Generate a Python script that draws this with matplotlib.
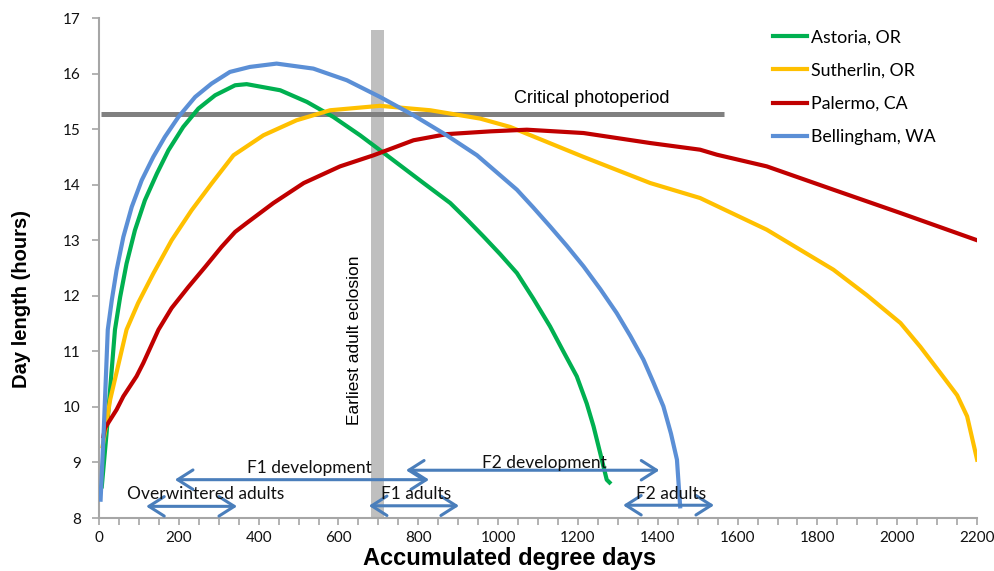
import matplotlib
matplotlib.use("Agg")
import matplotlib.pyplot as plt

# Day length vs accumulated degree days, four sites
astoria_x = [7, 19, 40, 53, 69, 90, 115, 145, 174, 211, 249, 291, 341, 370, 454, 521,
             587, 654, 721, 813, 880, 921, 963, 1005, 1047, 1088, 1130, 1164, 1197, 1222,
             1239, 1256, 1272, 1279]
astoria_y = [8.57, 9.53, 11.39, 11.98, 12.58, 13.18, 13.72, 14.2, 14.62, 15.04, 15.37,
             15.61, 15.79, 15.81, 15.7, 15.49, 15.22, 14.89, 14.53, 14.03, 13.67, 13.38,
             13.07, 12.75, 12.41, 11.95, 11.45, 10.99, 10.55, 10.06, 9.65, 9.16, 8.69, 8.64]

sutherlin_x = [9, 28, 69, 98, 136, 182, 232, 282, 337, 412, 495, 579, 704, 830, 955,
               1030, 1214, 1381, 1506, 1632, 1673, 1840, 1924, 2008, 2058, 2108, 2150,
               2175, 2200]
sutherlin_y = [9.29, 10.13, 11.39, 11.87, 12.4, 13.0, 13.54, 14.02, 14.53, 14.89, 15.16,
               15.34, 15.42, 15.34, 15.19, 15.04, 14.5, 14.03, 13.76, 13.33, 13.19, 12.47,
               12.01, 11.51, 11.08, 10.61, 10.21, 9.83, 9.05]

palermo_x = [11, 15, 44, 61, 94, 111, 149, 182, 224, 266, 307, 341, 370, 437, 513, 604,
             688, 788, 871, 980, 1072, 1214, 1381, 1506, 1548, 1673, 1840, 2008, 2200]
palermo_y = [9.47, 9.62, 9.95, 10.19, 10.55, 10.79, 11.39, 11.78, 12.16, 12.52, 12.88,
             13.15, 13.31, 13.67, 14.03, 14.33, 14.53, 14.8, 14.91, 14.96, 14.99, 14.93,
             14.75, 14.63, 14.54, 14.33, 13.91, 13.49, 13.0]

bellingham_x = [4, 12, 22, 32, 44, 61, 82, 107, 136, 165, 199, 241, 282, 328, 378, 445,
                537, 621, 704, 788, 871, 947, 1047, 1088, 1130, 1172, 1214, 1256, 1297,
                1331, 1364, 1389, 1414, 1433, 1448, 1456]
bellingham_y = [8.33, 9.6, 11.39, 11.92, 12.46, 13.06, 13.6, 14.08, 14.5, 14.86, 15.22,
                15.58, 15.82, 16.03, 16.12, 16.18, 16.09, 15.88, 15.58, 15.25, 14.89, 14.53,
                13.91, 13.59, 13.25, 12.9, 12.53, 12.12, 11.69, 11.28, 10.85, 10.44, 10.01,
                9.52, 9.05, 8.21]

# critical photoperiod line and earliest eclosion band
crit_x = [5, 1565]
crit_y = [15.27, 15.27]
eclosion_x = [682, 714]
eclosion_top = 16.78

# life stage arrows
stage_labels = ["Overwintered adults", "F1 development", "F1 adults", "F2 development", "F2 adults"]
stage_start = [118, 190, 676, 769, 1313]
stage_end = [346, 827, 902, 1404, 1541]
stage_y = [8.21, 8.69, 8.22, 8.86, 8.23]
stage_text_x = [266, 528, 795, 1115, 1433]
stage_text_y = [8.43, 8.9, 8.43, 8.99, 8.43]

fig = plt.figure(figsize=(9.94, 5.71), dpi=100)
ax = fig.add_axes([0.0996, 0.0928, 0.8834, 0.8756])

ax.axvspan(eclosion_x[0], eclosion_x[1], ymin=0, ymax=(eclosion_top - 8) / 9,
           color="#BFBFBF", lw=0, zorder=1)
ax.plot(crit_x, crit_y, color="#808080", lw=3.6, solid_capstyle="butt", zorder=2)

ax.plot(astoria_x, astoria_y, color="#00B050", lw=3, label="Astoria, OR", zorder=3)
ax.plot(sutherlin_x, sutherlin_y, color="#FFC000", lw=3, label="Sutherlin, OR", zorder=3)
ax.plot(palermo_x, palermo_y, color="#C00000", lw=3, label="Palermo, CA", zorder=3)
ax.plot(bellingham_x, bellingham_y, color="#5B8FD6", lw=3, label="Bellingham, WA", zorder=3)

for lab, x0, x1, y, tx, ty in zip(stage_labels, stage_start, stage_end, stage_y,
                                  stage_text_x, stage_text_y):
    ax.annotate("", xy=(x1, y), xytext=(x0, y),
                arrowprops=dict(arrowstyle="<->,head_length=0.55,head_width=0.35",
                                color="#4A7EBB", lw=2.2, mutation_scale=20,
                                shrinkA=0, shrinkB=0), zorder=4)
    ax.text(tx, ty, lab, ha="center", va="center", fontsize=12.5, family="Lato",
            color="#111111", zorder=5)

ax.text(1235, 15.56, "Critical photoperiod", ha="center", va="center", fontsize=13,
        family="Liberation Sans")
ax.text(641, 11.2, "Earliest adult eclosion", ha="center", va="center", fontsize=12.5,
        rotation=90, family="Liberation Sans")

ax.set_xlim(0, 2200)
ax.set_ylim(8, 17)
ax.set_xticks(range(0, 2201, 200))
ax.set_xticks(range(0, 2201, 50), minor=True)
ax.set_yticks(range(8, 18))
for lbl in ax.get_xticklabels() + ax.get_yticklabels():
    lbl.set_family("Lato")
    lbl.set_fontsize(11)
ax.tick_params(axis="both", which="both", direction="out", color="#A6A6A6",
               length=5, width=1.2, labelcolor="#111111")
ax.tick_params(axis="x", pad=4)
ax.tick_params(axis="y", pad=8)

for s in ["top", "right"]:
    ax.spines[s].set_visible(False)
for s in ["left", "bottom"]:
    ax.spines[s].set_color("#A6A6A6")
    ax.spines[s].set_linewidth(1.5)

# axis titles placed where they sit in the original
fig.text(510 / 994, 1 - 559 / 571, "Accumulated degree days", ha="center", va="center",
         fontsize=17, fontweight="bold", family="Liberation Sans")
fig.text(22 / 994, 1 - 299 / 571, "Day length (hours)", ha="center", va="center",
         rotation=90, fontsize=14.5, fontweight="bold", family="Liberation Sans")

leg = fig.legend(loc="upper left", bbox_to_anchor=(0.762, 0.977), frameon=False,
                 prop={"family": "Lato", "size": 12.8}, handlelength=1.9,
                 handletextpad=0.2, labelspacing=0.98)

fig.savefig("out.png", dpi=100)
